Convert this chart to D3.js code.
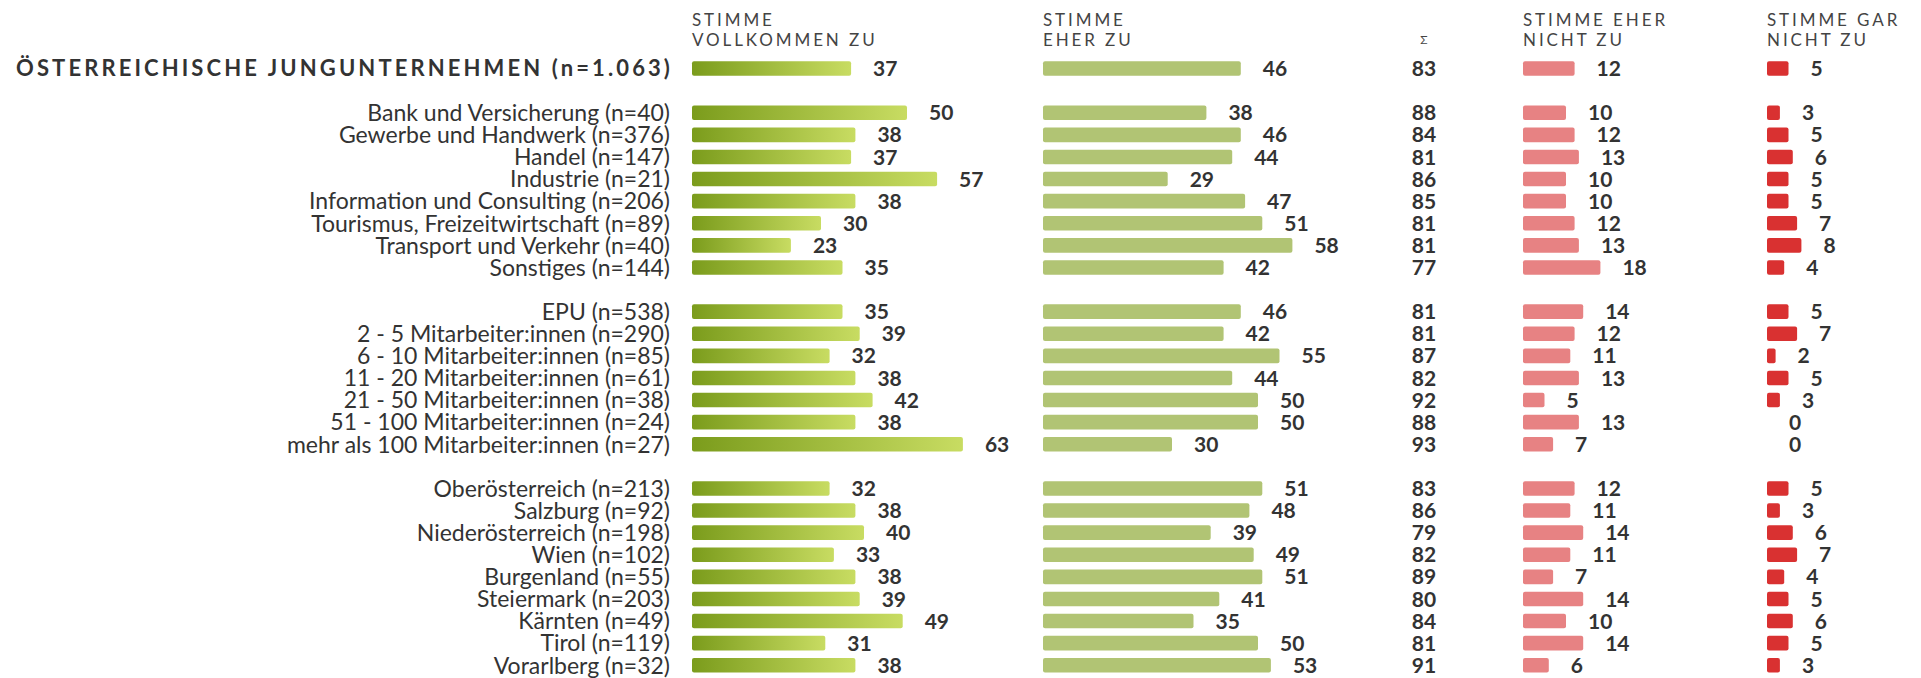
<!DOCTYPE html>
<html>
<head>
<meta charset="utf-8">
<script src="https://cdn.jsdelivr.net/npm/d3@7"></script>
<style>
  body { margin: 0; background: #fff; }
  svg text { font-family: Lato, "Noto Sans", sans-serif; }
</style>
</head>
<body>
<div id="chart"></div>
<script>
// Row labels, empty strings are spacer rows between the groups
const labels = [
    "ÖSTERREICHISCHE JUNGUNTERNEHMEN (n=1.063)", "",
    "Bank und Versicherung (n=40)", "Gewerbe und Handwerk (n=376)", "Handel (n=147)",
    "Industrie (n=21)", "Information und Consulting (n=206)",
    "Tourismus, Freizeitwirtschaft (n=89)", "Transport und Verkehr (n=40)", "Sonstiges (n=144)", "",
    "EPU (n=538)", "2 - 5 Mitarbeiter:innen (n=290)", "6 - 10 Mitarbeiter:innen (n=85)",
    "11 - 20 Mitarbeiter:innen (n=61)", "21 - 50 Mitarbeiter:innen (n=38)",
    "51 - 100 Mitarbeiter:innen (n=24)", "mehr als 100 Mitarbeiter:innen (n=27)", "",
    "Oberösterreich (n=213)", "Salzburg (n=92)", "Niederösterreich (n=198)", "Wien (n=102)",
    "Burgenland (n=55)", "Steiermark (n=203)", "Kärnten (n=49)", "Tirol (n=119)", "Vorarlberg (n=32)"
];
const vollkommen = [37, null, 50, 38, 37, 57, 38, 30, 23, 35, null, 35, 39, 32, 38, 42, 38, 63, null, 32, 38, 40, 33, 38, 39, 49, 31, 38];
const eherZu     = [46, null, 38, 46, 44, 29, 47, 51, 58, 42, null, 46, 42, 55, 44, 50, 50, 30, null, 51, 48, 39, 49, 51, 41, 35, 50, 53];
const summe      = [83, null, 88, 84, 81, 86, 85, 81, 81, 77, null, 81, 81, 87, 82, 92, 88, 93, null, 83, 86, 79, 82, 89, 80, 84, 81, 91];
const eherNicht  = [12, null, 10, 12, 13, 10, 10, 12, 13, 18, null, 14, 12, 11, 13, 5, 13, 7, null, 12, 11, 14, 11, 7, 14, 10, 14, 6];
const garNicht   = [5, null, 3, 5, 6, 5, 5, 7, 8, 4, null, 5, 7, 2, 5, 3, 0, 0, null, 5, 3, 6, 7, 4, 5, 6, 5, 3];

const headers = [
    { lines: ["STIMME", "VOLLKOMMEN ZU"], x: 692 },
    { lines: ["STIMME", "EHER ZU"], x: 1043 },
    { lines: ["STIMME EHER", "NICHT ZU"], x: 1523 },
    { lines: ["STIMME GAR", "NICHT ZU"], x: 1767 }
];

const width = 1921, height = 678;
const svg = d3.select("#chart").append("svg")
    .attr("width", width)
    .attr("height", height);

// gradient for the first column
const grad = svg.append("defs").append("linearGradient")
    .attr("id", "greenGrad")
    .attr("x1", "0%").attr("x2", "100%").attr("y1", "0%").attr("y2", "0%");
grad.append("stop").attr("offset", "0%").attr("stop-color", "#7b9c1c");
grad.append("stop").attr("offset", "100%").attr("stop-color", "#c8dc62");

const rowIdx = labels.map((d, i) => i);
const y = d3.scaleBand()
    .domain(rowIdx)
    .range([57.5, 57.5 + 22.1 * labels.length])
    .paddingInner(0.34)
    .paddingOuter(0.17);

const x = d3.scaleLinear().domain([0, 100]).range([0, 430]);

// headers
headers.forEach(h => {
    const t = svg.append("text")
        .attr("x", h.x)
        .attr("y", 26)
        .style("font-size", "17px")
        .style("letter-spacing", "2.9px")
        .style("fill", "#444");
    h.lines.forEach((l, i) => {
        t.append("tspan").attr("x", h.x).attr("dy", i === 0 ? 0 : 20).text(l);
    });
});
svg.append("text")
    .attr("x", 1424).attr("y", 44)
    .attr("text-anchor", "middle")
    .style("font-size", "12px")
    .style("fill", "#444")
    .text("Σ");

// row labels
svg.selectAll(".rowlabel")
    .data(rowIdx.filter(i => labels[i] !== ""))
    .enter()
    .append("text")
    .attr("class", "rowlabel")
    .attr("x", i => i === 0 ? 673 : 670)
    .attr("y", i => y(i) + y.bandwidth() / 2)
    .attr("dy", "0.36em")
    .attr("text-anchor", "end")
    .style("font-size", i => i === 0 ? "22px" : "23px")
    .style("font-weight", i => i === 0 ? "700" : "400")
    .style("letter-spacing", i => i === 0 ? "3.1px" : "0px")
    .style("fill", "#333")
    .text(i => labels[i]);

// bar columns
const columns = [
    { values: vollkommen, x0: 692, fill: "url(#greenGrad)" },
    { values: eherZu, x0: 1043, fill: "#b1c474" },
    { values: eherNicht, x0: 1523, fill: "#e78283" },
    { values: garNicht, x0: 1767, fill: "#d93131" }
];

columns.forEach(col => {
    const rows = rowIdx.filter(i => col.values[i] !== null);
    svg.selectAll(null)
        .data(rows.filter(i => col.values[i] > 0))
        .enter()
        .append("rect")
        .attr("x", col.x0)
        .attr("y", i => y(i))
        .attr("width", i => x(col.values[i]))
        .attr("height", y.bandwidth())
        .attr("rx", 2)
        .attr("fill", col.fill);

    svg.selectAll(null)
        .data(rows)
        .enter()
        .append("text")
        .attr("x", i => col.x0 + x(col.values[i]) + 22)
        .attr("y", i => y(i) + y.bandwidth() / 2)
        .attr("dy", "0.36em")
        .style("font-size", "21px")
        .style("font-weight", "700")
        .style("fill", "#333")
        .text(i => col.values[i]);
});

// sum column
svg.selectAll(".sum")
    .data(rowIdx.filter(i => summe[i] !== null))
    .enter()
    .append("text")
    .attr("class", "sum")
    .attr("x", 1424)
    .attr("y", i => y(i) + y.bandwidth() / 2)
    .attr("dy", "0.36em")
    .attr("text-anchor", "middle")
    .style("font-size", "21px")
    .style("font-weight", "700")
    .style("fill", "#333")
    .text(i => summe[i]);
</script>
</body>
</html>
